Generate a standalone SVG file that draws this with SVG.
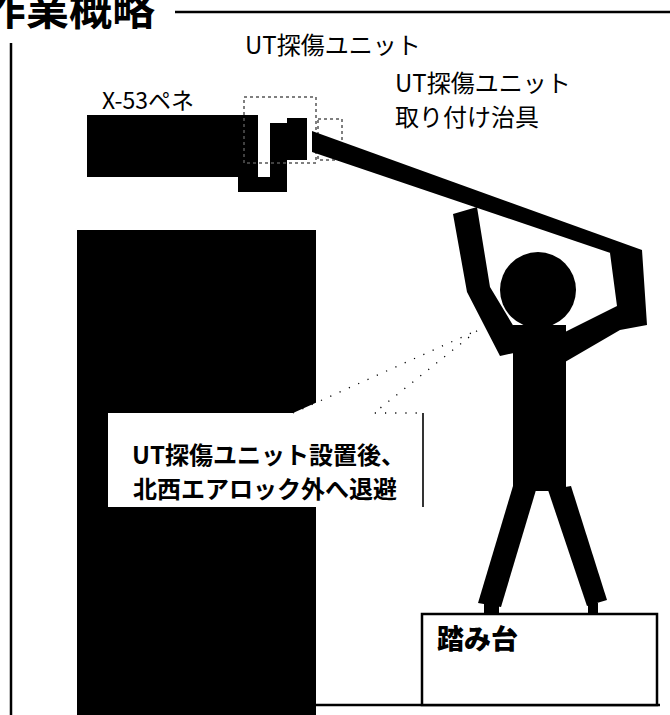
<svg xmlns="http://www.w3.org/2000/svg" width="670" height="715" viewBox="0 0 670 715">
  <style>
    .lbl { font-family: "Noto Sans CJK JP", "Noto Sans", sans-serif; fill: #000; }
    .note { font-size: 24px; font-weight: 400; }
    .bold { font-size: 24px; font-weight: 700; }
    .solid { fill: #000; stroke: none; }
    .rule { stroke: #000; stroke-width: 2.5; fill: none; }
    .dash { fill: none; stroke: #555; stroke-width: 1.5; stroke-dasharray: 3 3; }
    .dots { fill: none; stroke: #000; stroke-width: 1.3; stroke-dasharray: 1.2 9; }
  </style>

  <rect width="670" height="715" fill="#fff"/>

  <!-- section heading with rule lines -->
  <g id="heading">
    <text class="lbl" x="-17" y="25" font-size="43" font-weight="700">作業概略</text>
    <line class="rule" x1="175" y1="12" x2="670" y2="12"/>
    <line class="rule" x1="11" y1="43" x2="11" y2="715"/>
  </g>

  <!-- wall / structure column -->
  <g id="structure">
    <rect class="solid" x="77" y="230" width="239" height="485"/>
  </g>

  <!-- X-53 penetration -->
  <g id="penetration">
    <text class="lbl" x="102" y="109" font-size="23">X-53ペネ</text>
    <rect class="solid" x="87" y="115" width="171" height="62"/>
  </g>

  <!-- UT inspection unit on the penetration end -->
  <g id="ut-unit">
    <text class="lbl note" x="245" y="54">UT探傷ユニット</text>
    <path class="solid" d="M238,177 H270 V123 H287 V192 H238 Z"/>
    <rect class="solid" x="287" y="118" width="20" height="42"/>
    <rect class="dash" x="244" y="97" width="72" height="66"/>
  </g>

  <!-- mounting jig (pole) -->
  <g id="jig">
    <text class="lbl note" x="395" y="92">UT探傷ユニット</text>
    <text class="lbl note" x="395" y="126">取り付け治具</text>
    <rect class="dash" x="318" y="119" width="24" height="41"/>
    <polygon class="solid" points="312,131 642,250 640,263 312,152"/>
  </g>

  <!-- worker holding the jig -->
  <g id="worker">
    <circle class="solid" cx="538" cy="290" r="38"/>
    <rect class="solid" x="513" y="325" width="53" height="166"/>
    <!-- left arm -->
    <polygon class="solid" points="453,214 477,207 490,287 514,327 514,353 500,356 467,292"/>
    <!-- right arm -->
    <polygon class="solid" points="565,332 617,306 610,253 642,250 647,325 620,330 565,362"/>
    <!-- legs -->
    <polygon class="solid" points="513,486 536,490 501,607 478,603"/>
    <polygon class="solid" points="548,490 571,486 607,600 587,606"/>
    <rect class="solid" x="484" y="603" width="15" height="11"/>
    <rect class="solid" x="588" y="603" width="10" height="11"/>
  </g>

  <!-- step stand -->
  <g id="stand">
    <line class="rule" x1="316" y1="705" x2="660" y2="705"/>
    <rect x="422" y="614" width="235" height="91" fill="#fff" stroke="#000" stroke-width="2.5"/>
    <text class="lbl" x="437" y="649" font-size="27" font-weight="900">踏み台</text>
  </g>

  <!-- speech callout pointing at the worker -->
  <g id="callout">
    <path d="M108,413 H293 L478,330 L374,413 H423 V507 H108 Z" fill="#fff" stroke="none"/>
    <path class="dots" d="M293,413 L478,330 L374,413 H423"/>
    <line x1="423" y1="413" x2="423" y2="507" stroke="#000" stroke-width="1.6"/>
    <text class="lbl bold" x="132" y="464">UT探傷ユニット設置後、</text>
    <text class="lbl bold" x="133" y="498">北西エアロック外へ退避</text>
  </g>
</svg>
